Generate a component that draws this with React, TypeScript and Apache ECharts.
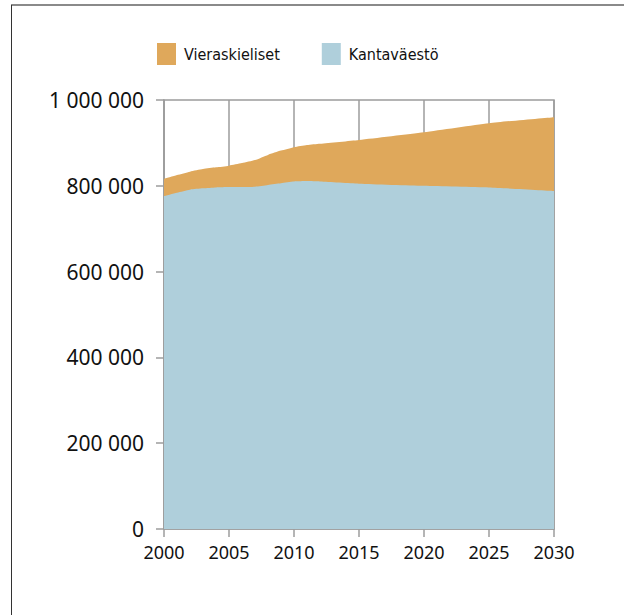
import React, { useEffect, useRef } from "react";
import * as echarts from "echarts";

const years = [2000, 2001, 2002, 2003, 2004, 2005, 2006, 2007, 2008, 2009, 2010, 2011, 2012, 2015, 2020, 2025, 2030];
const kantavaesto = [776000, 784000, 791000, 794000, 796000, 797000, 797000, 798000, 802000, 806000, 810000, 811000, 810000, 805000, 800000, 796000, 788000];
const vieraskieliset = [40000, 41000, 42000, 45000, 47000, 50000, 56000, 62000, 70000, 76000, 80000, 84000, 88000, 102000, 125000, 150000, 172000];
const seriesNames = ["Vieraskieliset", "Kantaväestö"];
const yTicks = { min: 0, max: 1000000, interval: 200000 };
const xTicks = { min: 2000, max: 2030, interval: 5 };

const fmtThousands = (v: number) => String(Math.round(v)).replace(/\B(?=(\d{3})+(?!\d))/g, " ");

export default function App() {
  const ref = useRef<HTMLDivElement>(null);
  useEffect(() => {
    if (!ref.current) return;
    const chart = echarts.init(ref.current, null, { renderer: "svg" });
    const gray = "#9c9c9c";
    // stacked by hand: upper band drawn as cumulative total, lower band on top of it
    const totals = kantavaesto.map((k, i) => k + vieraskieliset[i]);
    chart.setOption({
      animation: false,
      backgroundColor: "#ffffff",
      graphic: [
        { type: "line", shape: { x1: 11, y1: 5, x2: 624, y2: 5 }, style: { stroke: "#8a8a8a", lineWidth: 2 } },
        { type: "line", shape: { x1: 11.5, y1: 5, x2: 11.5, y2: 615 }, style: { stroke: "#333333", lineWidth: 1 } },
      ],
      legend: {
        data: seriesNames,
        left: 157,
        top: 43,
        padding: 0,
        icon: "rect",
        itemWidth: 19,
        itemHeight: 22,
        itemGap: 42,
        textStyle: {
          fontFamily: "'DejaVu Sans Condensed', 'Liberation Sans Narrow', sans-serif",
          fontSize: 16,
          color: "#111111",
          padding: [4, 0, 0, 3],
        },
      },
      grid: {
        left: 164,
        right: 70,
        top: 100,
        bottom: 86,
        show: true,
        borderColor: gray,
        borderWidth: 1.5,
        backgroundColor: "transparent",
      },
      xAxis: {
        type: "value",
        min: xTicks.min,
        max: xTicks.max,
        interval: xTicks.interval,
        axisLine: { show: true, lineStyle: { color: gray, width: 1.5 } },
        axisTick: { show: true, length: 8, lineStyle: { color: gray, width: 1.5 } },
        splitLine: { show: true, lineStyle: { color: gray, width: 1.5 } },
        axisLabel: {
          margin: 14,
          fontFamily: "'Noto Sans', 'Liberation Sans', sans-serif",
          fontSize: 18,
          color: "#111111",
          formatter: (v: number) => String(v),
        },
      },
      yAxis: {
        type: "value",
        min: yTicks.min,
        max: yTicks.max,
        interval: yTicks.interval,
        axisLine: { show: true, lineStyle: { color: gray, width: 1.5 } },
        axisTick: { show: true, length: 8, lineStyle: { color: gray, width: 1.5 } },
        splitLine: { show: false },
        axisLabel: {
          margin: 20,
          fontFamily: "'Noto Sans', 'Liberation Sans', sans-serif",
          fontSize: 21,
          color: "#111111",
          formatter: fmtThousands,
        },
      },
      series: [
        {
          name: "Vieraskieliset",
          type: "line",
          data: years.map((y, i) => [y, totals[i]]),
          symbol: "none",
          smooth: 0.2,
          lineStyle: { width: 0 },
          itemStyle: { color: "#dfa85b" },
          areaStyle: { color: "#dfa85b", opacity: 1 },
          z: 2,
        },
        {
          name: "Kantaväestö",
          type: "line",
          data: years.map((y, i) => [y, kantavaesto[i]]),
          symbol: "none",
          smooth: 0.2,
          lineStyle: { width: 0 },
          itemStyle: { color: "#afcfdb" },
          areaStyle: { color: "#afcfdb", opacity: 1 },
          z: 3,
        },
      ],
    });
    return () => chart.dispose();
  }, []);
  return (
    <div
      ref={ref}
      style={{ position: "absolute", left: 0, top: 0, width: 624, height: 615 }}
    />
  );
}
